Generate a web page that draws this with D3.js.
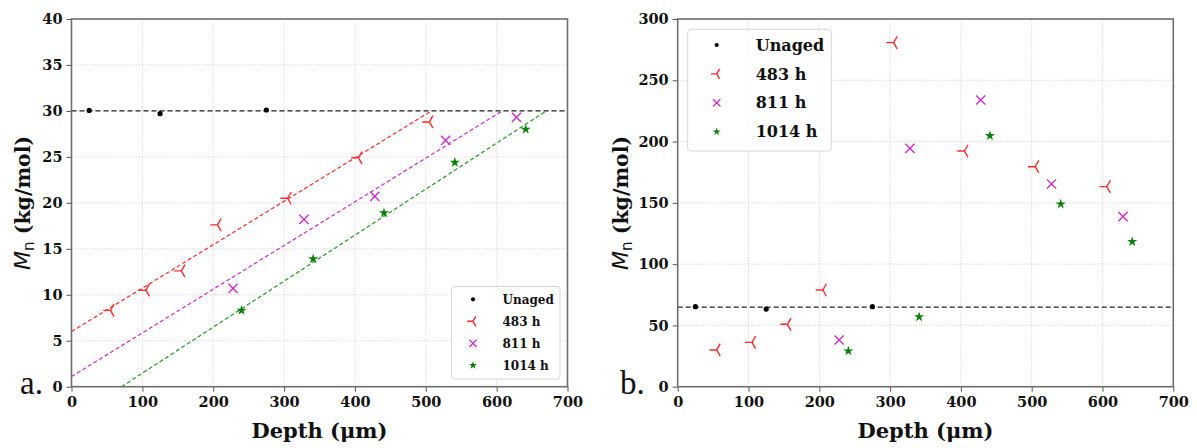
<!DOCTYPE html>
<html><head><meta charset="utf-8">
<script src="https://cdn.jsdelivr.net/npm/d3@7"></script>
<style>body{margin:0;background:#fff}svg{display:block}</style>
</head><body>
<svg id="c" width="1197" height="448"></svg>
<script>
// ---------- data ----------
const xTicks = [0, 100, 200, 300, 400, 500, 600, 700];
const yTicksA = [0, 5, 10, 15, 20, 25, 30, 35, 40];
const yTicksB = [0, 50, 100, 150, 200, 250, 300];
const seriesNames = ["Unaged", "483 h", "811 h", "1014 h"];

// panel a
const depthUnagedA = [25, 125, 275];
const mnUnagedA = [30.05, 29.7, 30.1];
const depth483A = [55, 105, 155, 206, 305, 405, 505];
const mn483A = [8.3, 10.5, 12.6, 17.6, 20.5, 24.9, 28.8];
const depth811A = [228, 328, 428, 528, 628];
const mn811A = [10.7, 18.2, 20.7, 26.8, 29.3];
const depth1014A = [240, 341, 441, 541, 641];
const mn1014A = [8.3, 13.9, 18.9, 24.4, 28.0];
const fit483A = [[0, 6.0], [508, 30]];
const fit811A = [[0, 1.1], [608, 30]];
const fit1014A = [[70.5, 0], [670, 30]];
const refLineA = 30;

// panel b
const depthUnagedB = [25, 125, 275];
const mnUnagedB = [65.3, 63.3, 65.3];
const depth483B = [55, 105, 155, 205, 305, 405, 505, 606];
const mn483B = [30, 36.2, 50.9, 78.9, 280.7, 192.3, 179.5, 163.2];
const depth811B = [228, 328, 428, 528, 629];
const mn811B = [38.1, 194.5, 233.9, 165.4, 138.7];
const depth1014B = [241, 341, 441, 541, 642];
const mn1014B = [29.1, 56.9, 204.8, 149, 118.3];
const refLineB = 65;

// ---------- styles ----------
const COL = {unaged: "#000", h483: "#ff2a2a", h811: "#cc2ccc", h1014: "#0a800a"};
const serifB = "'DejaVu Serif', serif";
const svg = d3.select("#c");

function zip(a, b) { return a.map((v, i) => [v, b[i]]); }

// marker drawers
function drawMarker(g, type, x, y, s) {
  s = s || 1;
  if (type === "dot") {
    g.append("circle").attr("cx", x).attr("cy", y).attr("r", 2.6 * s).attr("fill", COL.unaged);
  } else if (type === "tri") {
    const r = 7.2 * s;
    const p = d3.path();
    p.moveTo(x, y); p.lineTo(x - r, y);
    p.moveTo(x, y); p.lineTo(x + r * 0.5, y - r * 0.866);
    p.moveTo(x, y); p.lineTo(x + r * 0.5, y + r * 0.866);
    g.append("path").attr("d", p.toString()).attr("stroke", COL.h483)
      .attr("stroke-width", 1.4).attr("fill", "none");
  } else if (type === "x") {
    const r = 4.6 * s;
    const p = d3.path();
    p.moveTo(x - r, y - r); p.lineTo(x + r, y + r);
    p.moveTo(x - r, y + r); p.lineTo(x + r, y - r);
    g.append("path").attr("d", p.toString()).attr("stroke", COL.h811)
      .attr("stroke-width", 1.4).attr("fill", "none");
  } else if (type === "star") {
    g.append("path").attr("d", d3.symbol(d3.symbolStar, 32 * s * s)())
      .attr("transform", `translate(${x},${y})`).attr("fill", COL.h1014);
  }
}

function panel(opt) {
  const {x0, x1, y0, y1, yMax, yTicks, series, fits, refLine, legend, letter, letterX, labelX} = opt;
  const x = d3.scaleLinear().domain([0, 700]).range([x0, x1]);
  const y = d3.scaleLinear().domain([0, yMax]).range([y1, y0]);
  const g = svg.append("g");

  // grid
  g.append("g").selectAll("line").data(xTicks.slice(1, -1)).join("line")
    .attr("x1", d => x(d)).attr("x2", d => x(d)).attr("y1", y0).attr("y2", y1)
    .attr("stroke", "#cfcfcf").attr("stroke-width", 0.9).attr("stroke-dasharray", "1.2,1.6");
  g.append("g").selectAll("line").data(yTicks.slice(1, -1)).join("line")
    .attr("y1", d => y(d)).attr("y2", d => y(d)).attr("x1", x0).attr("x2", x1)
    .attr("stroke", "#cfcfcf").attr("stroke-width", 0.9).attr("stroke-dasharray", "1.2,1.6");

  // reference dashed line
  g.append("line").attr("x1", x0).attr("x2", x1).attr("y1", y(refLine)).attr("y2", y(refLine))
    .attr("stroke", "#222").attr("stroke-width", 1.3).attr("stroke-dasharray", "5,3");

  // fit lines
  const line = d3.line().x(d => x(d[0])).y(d => y(d[1]));
  (fits || []).forEach(f => {
    g.append("path").attr("d", line(f.pts)).attr("stroke", f.color)
      .attr("stroke-width", 1.2).attr("stroke-dasharray", "4,2.5").attr("fill", "none");
  });

  // points
  series.forEach(s => {
    zip(s.xs, s.ys).forEach(([a, b]) => drawMarker(g, s.type, x(a), y(b), 1));
  });

  // axes
  const ax = g.append("g").attr("transform", `translate(0,${y1})`)
    .call(d3.axisBottom(x).tickValues(xTicks).tickSize(5).tickPadding(5).tickFormat(d3.format("d")));
  const ay = g.append("g").attr("transform", `translate(${x0},0)`)
    .call(d3.axisLeft(y).tickValues(yTicks).tickSize(5).tickPadding(4).tickFormat(d3.format("d")));
  [ax, ay].forEach(a => {
    a.select(".domain").remove();
    a.selectAll(".tick line").attr("stroke", "#555").attr("stroke-width", 1);
    a.selectAll(".tick text").attr("font-family", serifB).attr("font-weight", "bold")
      .attr("font-size", "14.5px").attr("fill", "#111");
  });
  // frame
  g.append("rect").attr("x", x0).attr("y", y0).attr("width", x1 - x0).attr("height", y1 - y0)
    .attr("fill", "none").attr("stroke", "#6e6e6e").attr("stroke-width", 1.6);

  // x label
  g.append("text").attr("x", (x0 + x1) / 2).attr("y", 438).attr("text-anchor", "middle")
    .attr("font-family", serifB).attr("font-weight", "bold").attr("font-size", "21px")
    .attr("fill", "#111").text("Depth (\u03bcm)");

  // y label
  const yl = g.append("text").attr("transform", `translate(${labelX},${(y0 + y1) / 2}) rotate(-90)`)
    .attr("text-anchor", "middle").attr("fill", "#111");
  yl.append("tspan").attr("font-family", "'DejaVu Sans', sans-serif").attr("font-style", "italic")
    .attr("font-size", "22px").text("M");
  yl.append("tspan").attr("font-family", "'DejaVu Sans', sans-serif").attr("font-size", "15px")
    .attr("dy", 4).text("n");
  yl.append("tspan").attr("font-family", serifB).attr("font-weight", "bold")
    .attr("font-size", "20.5px").attr("dy", -4).text("\u00a0(kg/mol)");

  // panel letter
  g.append("text").attr("x", letterX).attr("y", 394).attr("font-family", "'Liberation Serif', serif")
    .attr("font-size", "33px").attr("fill", "#111").text(letter);

  // legend
  const L = legend;
  const lg = g.append("g");
  lg.append("rect").attr("x", L.x).attr("y", L.y).attr("width", L.w).attr("height", L.h)
    .attr("rx", 3).attr("fill", "#fff").attr("fill-opacity", 0.85)
    .attr("stroke", "#d6d6d6").attr("stroke-width", 1);
  const types = ["dot", "tri", "x", "star"];
  seriesNames.forEach((n, i) => {
    const cy = L.y + L.first + i * L.step;
    drawMarker(lg, types[i], L.x + L.mx, cy, L.ms);
    lg.append("text").attr("x", L.x + L.tx).attr("y", cy).attr("dy", "0.35em")
      .attr("font-family", serifB).attr("font-weight", "bold").attr("font-size", L.fs + "px")
      .attr("fill", "#111").text(n);
  });
}

panel({
  x0: 71.5, x1: 567.5, y0: 19, y1: 386.7, yMax: 40, yTicks: yTicksA,
  series: [
    {type: "dot", xs: depthUnagedA, ys: mnUnagedA},
    {type: "tri", xs: depth483A, ys: mn483A},
    {type: "x", xs: depth811A, ys: mn811A},
    {type: "star", xs: depth1014A, ys: mn1014A}
  ],
  fits: [
    {pts: fit483A, color: COL.h483},
    {pts: fit811A, color: COL.h811},
    {pts: fit1014A, color: "#1f9a1f"}
  ],
  refLine: refLineA,
  legend: {x: 451.5, y: 286.5, w: 108.5, h: 92.5, first: 12.8, step: 22, mx: 21.5, tx: 51, fs: 12, ms: 0.8},
  letter: "a.", letterX: 20, labelX: 30
});

panel({
  x0: 677.7, x1: 1173.3, y0: 19, y1: 386.7, yMax: 300, yTicks: yTicksB,
  series: [
    {type: "dot", xs: depthUnagedB, ys: mnUnagedB},
    {type: "tri", xs: depth483B, ys: mn483B},
    {type: "x", xs: depth811B, ys: mn811B},
    {type: "star", xs: depth1014B, ys: mn1014B}
  ],
  fits: [],
  refLine: refLineB,
  legend: {x: 687.7, y: 29.3, w: 143.6, h: 121.7, first: 15.7, step: 28.9, mx: 29, tx: 68, fs: 16, ms: 0.8},
  letter: "b.", letterX: 620, labelX: 628
});
</script>
</body></html>
